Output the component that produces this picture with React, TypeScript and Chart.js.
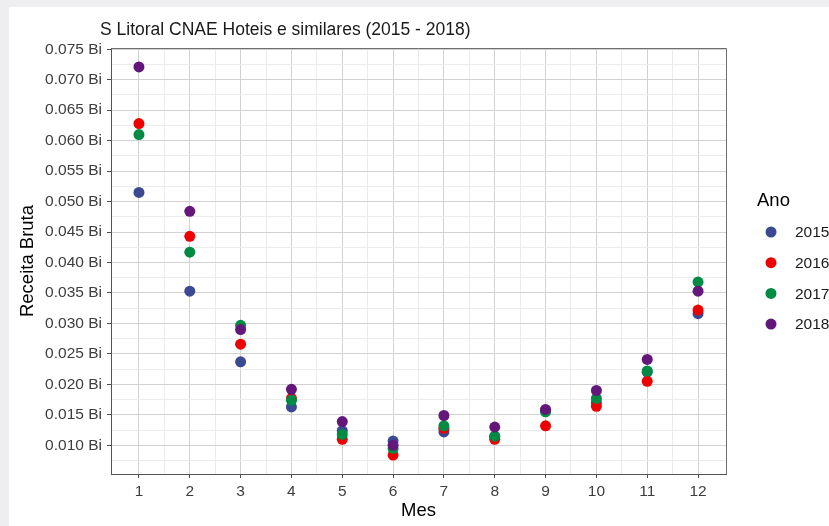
import React, { useEffect, useRef } from "react";
import { Chart, registerables } from "chart.js";

Chart.register(...registerables);

const FONT = "'Liberation Sans', Arial, Helvetica, sans-serif";

const chartTitle = "S Litoral CNAE Hoteis e similares (2015 - 2018)";
const xTitle = "Mes";
const yTitle = "Receita Bruta";
const legendTitle = "Ano";

const months = [1, 2, 3, 4, 5, 6, 7, 8, 9, 10, 11, 12];
const years = ["2015", "2016", "2017", "2018"];
const yearColors = ["#3B4992", "#EE0000", "#008B45", "#631879"];

const receita2015 = [0.0515, 0.0353, 0.0237, 0.0163, 0.0124, 0.0107, 0.0122, 0.0114, 0.0157, 0.017, 0.022, 0.0316];
const receita2016 = [0.0628, 0.0443, 0.0266, 0.0177, 0.011, 0.0084, 0.0128, 0.011, 0.0132, 0.0164, 0.0205, 0.0322];
const receita2017 = [0.061, 0.0417, 0.0297, 0.0174, 0.0118, 0.0095, 0.0132, 0.0115, 0.0155, 0.0177, 0.0222, 0.0368];
const receita2018 = [0.0721, 0.0484, 0.029, 0.0192, 0.0139, 0.01, 0.0149, 0.013, 0.0159, 0.019, 0.0241, 0.0353];

const yTickValues = [0.01, 0.015, 0.02, 0.025, 0.03, 0.035, 0.04, 0.045, 0.05, 0.055, 0.06, 0.065, 0.07, 0.075];
const xTickValues = months;

const series = [receita2015, receita2016, receita2017, receita2018];

const isYMajor = (v: number) => yTickValues.some((t) => Math.abs(t - v) < 1e-7);
const isXMajor = (v: number) => xTickValues.some((t) => Math.abs(t - v) < 1e-7);

const yAllTicks = [...yTickValues, ...yTickValues.map((v) => +(v - 0.0025).toFixed(5))].sort((a, b) => a - b);
const xAllTicks = [...xTickValues, ...xTickValues.slice(0, -1).map((v) => v + 0.5)].sort((a, b) => a - b);

const decorPlugin = {
  id: "decor",
  beforeDatasetsDraw(chart: any) {
    const { ctx, chartArea: a } = chart;
    ctx.save();
    ctx.strokeStyle = "#6e6e6e";
    ctx.lineWidth = 1;
    ctx.beginPath();
    ctx.moveTo(a.left, Math.round(a.top) + 0.5);
    ctx.lineTo(Math.round(a.right) + 0.5, Math.round(a.top) + 0.5);
    ctx.lineTo(Math.round(a.right) + 0.5, a.bottom);
    ctx.stroke();
    ctx.restore();
  },
  afterDraw(chart: any) {
    const { ctx } = chart;
    ctx.save();
    // title
    ctx.fillStyle = "#1a1a1a";
    ctx.font = `17.5px ${FONT}`;
    ctx.textAlign = "left";
    ctx.textBaseline = "middle";
    ctx.fillText(chartTitle, 91, 23);
    // legend
    ctx.fillStyle = "#000";
    ctx.font = `18.5px ${FONT}`;
    ctx.fillText(legendTitle, 748, 194);
    ctx.font = `15.5px ${FONT}`;
    chart.data.datasets.forEach((ds: any, i: number) => {
      const y = 225 + i * 30.7;
      ctx.beginPath();
      ctx.fillStyle = ds.backgroundColor;
      ctx.arc(762, y, 5.5, 0, Math.PI * 2);
      ctx.fill();
      ctx.fillStyle = "#1a1a1a";
      ctx.fillText(ds.label, 786, y + 1);
    });
    ctx.restore();
  },
};

export default function App() {
  const canvasRef = useRef<HTMLCanvasElement | null>(null);

  useEffect(() => {
    if (!canvasRef.current) return;
    const chart = new Chart(canvasRef.current, {
      type: "scatter",
      data: {
        datasets: years.map((yr, i) => ({
          label: yr,
          data: months.map((m, j) => ({ x: m, y: series[i][j] })),
          backgroundColor: yearColors[i],
          borderWidth: 0,
          pointRadius: 5.5,
          pointHoverRadius: 5.5,
          order: years.length - i,
        })),
      },
      options: {
        animation: false,
        responsive: false,
        devicePixelRatio: 1,
        layout: { padding: { top: 41, right: 103, left: 0, bottom: 0 } },
        plugins: {
          legend: { display: false },
          tooltip: { enabled: false },
          title: { display: false },
        },
        scales: {
          x: {
            type: "linear",
            min: 0.45,
            max: 12.55,
            afterBuildTicks: (s: any) => {
              s.ticks = xAllTicks.map((v) => ({ value: v }));
            },
            afterFit: (s: any) => {
              s.height = 52;
            },
            ticks: {
              autoSkip: false,
              maxRotation: 0,
              padding: 4,
              color: "#3d3d3d",
              font: { family: FONT, size: 15.5 },
              callback: (v: any) => (isXMajor(v) ? String(v) : ""),
            },
            grid: {
              color: (c: any) => (c.tick && isXMajor(c.tick.value) ? "#d2d2d2" : "#ececec"),
              tickColor: (c: any) => (c.tick && isXMajor(c.tick.value) ? "#4d4d4d" : "rgba(0,0,0,0)"),
              tickLength: 4,
              lineWidth: 1,
            },
            border: { color: "#555555", width: 1 },
            title: {
              display: true,
              text: xTitle,
              color: "#000",
              font: { family: FONT, size: 18.5 },
              padding: { top: 0, bottom: 4 },
            },
          },
          y: {
            type: "linear",
            min: 0.0053,
            max: 0.0752,
            afterBuildTicks: (s: any) => {
              s.ticks = yAllTicks.map((v) => ({ value: v }));
            },
            afterFit: (s: any) => {
              s.width = 102;
            },
            ticks: {
              autoSkip: false,
              padding: 5,
              color: "#3d3d3d",
              font: { family: FONT, size: 15.5 },
              callback: (v: any) => (isYMajor(v) ? Number(v).toFixed(3) + " Bi" : ""),
            },
            grid: {
              color: (c: any) => (c.tick && isYMajor(c.tick.value) ? "#d2d2d2" : "#ececec"),
              tickColor: (c: any) => (c.tick && isYMajor(c.tick.value) ? "#4d4d4d" : "rgba(0,0,0,0)"),
              tickLength: 4,
              lineWidth: 1,
            },
            border: { color: "#555555", width: 1 },
            title: {
              display: true,
              text: yTitle,
              color: "#000",
              font: { family: FONT, size: 18.5 },
              padding: { top: 8, bottom: 0 },
            },
          },
        },
      },
      plugins: [decorPlugin],
    } as any);
    return () => chart.destroy();
  }, []);

  return (
    <div
      style={{
        position: "fixed",
        left: 0,
        top: 0,
        width: 829,
        height: 526,
        background: "#eeeef0",
        overflow: "hidden",
      }}
    >
      <div style={{ position: "absolute", left: 9, top: 7, width: 820, height: 519, background: "#ffffff" }}>
        <canvas ref={canvasRef} width={820} height={519} style={{ display: "block", width: 820, height: 519 }} />
      </div>
    </div>
  );
}
